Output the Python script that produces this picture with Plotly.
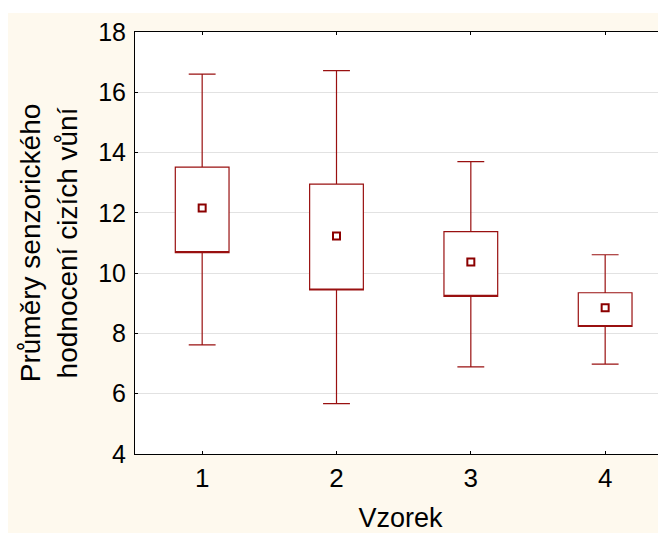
import plotly.graph_objects as go

# ---- data ----
samples = [1, 2, 3, 4]
q1 = [10.68, 9.44, 9.23, 8.23]
q3 = [13.52, 12.95, 11.38, 9.35]
means = [12.16, 11.23, 10.37, 8.85]
lower = [7.62, 5.67, 6.89, 6.98]
upper = [16.60, 16.72, 13.70, 10.61]
y_ticks = [4, 6, 8, 10, 12, 14, 16, 18]
x_title = "Vzorek"
y_title = "Průměry senzorického<br>hodnocení cizích vůní"

RED = "#991010"
CREAM = "#FEF9EE"
# the page body adds an 8px margin, so the figure is 8px smaller
W, H = 658, 525
L, T, B, R = 127, 24, 79, 0
pw, ph = W - L - R, H - T - B

fig = go.Figure()
fig.add_trace(go.Box(
    x=samples, q1=q1, median=q1, q3=q3,
    lowerfence=lower, upperfence=upper,
    width=0.4, whiskerwidth=0.5,
    line=dict(color=RED, width=1.2), fillcolor="white",
    boxpoints=False, hoverinfo="skip", showlegend=False,
))
fig.add_trace(go.Scatter(
    x=samples, y=means, mode="markers",
    marker=dict(symbol="square-open", size=7, color="#8B0000",
                line=dict(width=2, color="#8B0000")),
    hoverinfo="skip", showlegend=False,
))

# cream panel (white strip at top), white plot area
fig.add_shape(type="rect", xref="paper", yref="paper", layer="below",
              x0=-L / pw, x1=1.0, y0=-B / ph, y1=(H - B - 5) / ph,
              fillcolor=CREAM, line_width=0)
fig.add_shape(type="rect", xref="paper", yref="paper", layer="below",
              x0=0, x1=1, y0=0, y1=1, fillcolor="white", line_width=0)

fig.update_layout(
    width=W, height=H,
    margin=dict(l=L, r=R, t=T, b=B, pad=0),
    paper_bgcolor="white", plot_bgcolor="white",
    font=dict(family="Liberation Sans, Arial, sans-serif", color="black"),
    showlegend=False,
)
fig.update_xaxes(
    range=[0.5, 0.5 + pw / 134.33], tickvals=samples,
    ticktext=[str(s) for s in samples],
    showgrid=False, zeroline=False,
    showline=True, linecolor="black", linewidth=1, mirror="ticks",
    ticks="inside", ticklen=3, tickcolor="black",
    tickfont=dict(size=26), ticklabelstandoff=1,
    title=dict(text=x_title, font=dict(size=27), standoff=18),
    automargin=False,
)
fig.update_yaxes(
    range=[4, 18], tickvals=y_ticks,
    showgrid=True, gridcolor="#E2E2E2", gridwidth=1, zeroline=False,
    showline=True, linecolor="black", linewidth=1, mirror=False,
    ticks="inside", ticklen=3, tickcolor="black",
    tickfont=dict(size=25), ticklabelstandoff=3,
    title=dict(text=y_title, font=dict(size=28), standoff=12),
    automargin=False,
)

fig.write_html("out.html")
